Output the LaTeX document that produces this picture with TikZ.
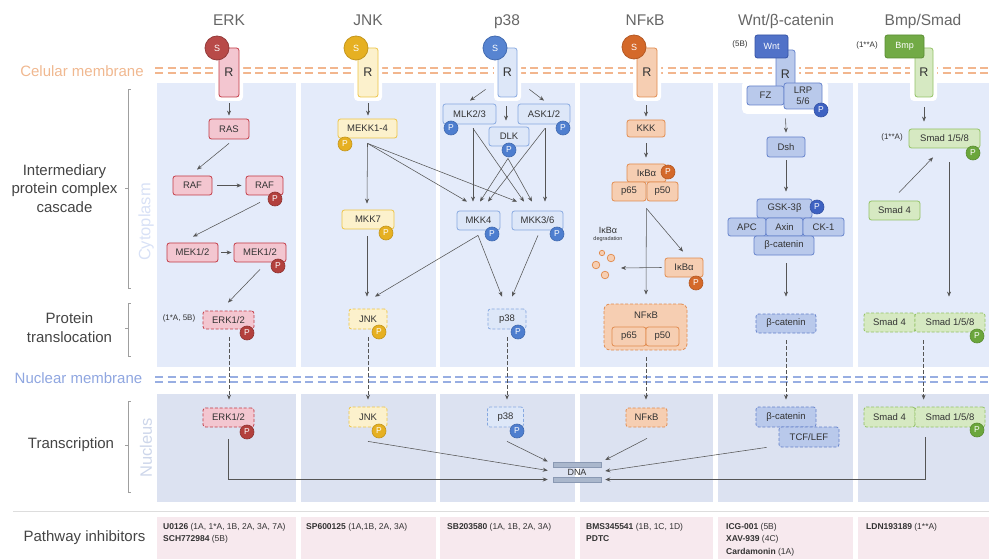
\documentclass[tikz,border=0pt]{standalone}
\usepackage{fontspec}
\setmainfont{Liberation Sans}
\usetikzlibrary{arrows.meta,calc}
\definecolor{erkF}{HTML}{F3C6D0}\definecolor{erkD}{HTML}{C23A45}\definecolor{erkP}{HTML}{B3403D}\definecolor{erkS}{HTML}{B84A48}
\definecolor{jnkF}{HTML}{FCF1CC}\definecolor{jnkD}{HTML}{EDC446}\definecolor{jnkP}{HTML}{E6B022}
\definecolor{p38F}{HTML}{DDE7F8}\definecolor{p38D}{HTML}{86A8E0}\definecolor{p38P}{HTML}{4E7ECF}
\definecolor{nfF}{HTML}{F6CEB2}\definecolor{nfD}{HTML}{E18B4E}\definecolor{nfP}{HTML}{D4692A}
\definecolor{wntF}{HTML}{B9C9EB}\definecolor{wntD}{HTML}{6482CB}\definecolor{wntP}{HTML}{3E62C2}
\definecolor{bmpF}{HTML}{D6E9C2}\definecolor{bmpD}{HTML}{93C266}\definecolor{bmpP}{HTML}{6BA63C}
\definecolor{cyto}{HTML}{E4EBFA}\definecolor{nucl}{HTML}{DCE2F1}\definecolor{inhib}{HTML}{F7E9EE}
\definecolor{memO}{HTML}{F2B68E}\definecolor{memB}{HTML}{98AEE2}
\definecolor{memOt}{HTML}{F0B890}\definecolor{memBt}{HTML}{8FA6E0}
\definecolor{txt}{HTML}{333333}\definecolor{ttl}{HTML}{666666}\definecolor{lab}{HTML}{444444}
\definecolor{arrc}{HTML}{555555}\definecolor{ghost}{HTML}{D8E1F6}\definecolor{sepc}{HTML}{DDDDDD}
\definecolor{dnaF}{HTML}{AAB7CC}\definecolor{dnaD}{HTML}{8A99B3}
\begin{document}
\begin{tikzpicture}[x=1pt,y=-1pt,
  bx/.style={rectangle, rounded corners=2.5pt, line width=0.8pt, inner sep=0pt, font=\fontsize{9.5}{11}\selectfont, text=txt, align=center},
  wh/.style 2 args={minimum width=#1pt, minimum height=#2pt},
  dsb/.style={dash pattern=on 3pt off 1.8pt},
  erkb/.style={bx, fill=erkF, draw=erkD},
  jnkb/.style={bx, fill=jnkF, draw=jnkD},
  p38b/.style={bx, fill=p38F, draw=p38D},
  nfb/.style={bx, fill=nfF, draw=nfD},
  wntb/.style={bx, fill=wntF, draw=wntD},
  bmpb/.style={bx, fill=bmpF, draw=bmpD},
  rlab/.style={font=\fontsize{12.5}{12.5}\selectfont},
  pc/.style={circle, inner sep=0pt, minimum size=14pt, font=\fontsize{8.5}{8.5}\selectfont, text=white, line width=0.6pt},
  perk/.style={pc, fill=erkP, draw=erkP!80!black},
  pjnk/.style={pc, fill=jnkP, draw=jnkP!85!black},
  pp38/.style={pc, fill=p38P, draw=p38P!85!black},
  pnf/.style={pc, fill=nfP, draw=nfP!85!black},
  pwnt/.style={pc, fill=wntP, draw=wntP!85!black},
  pbmp/.style={pc, fill=bmpP, draw=bmpP!85!black},
  sc/.style={circle, inner sep=0pt, minimum size=24pt, font=\fontsize{9}{9}\selectfont, text=white, line width=0.8pt},
  arr/.style={draw=arrc, line width=0.55pt, -{Stealth[length=5pt,width=4pt]}},
  darr/.style={arr, line width=0.7pt, dash pattern=on 3.5pt off 2.5pt},
  brk/.style={draw=gray!75, line width=0.7pt},
  lbl/.style={font=\fontsize{15}{18.5}\selectfont, text=lab, align=center},
  ttlst/.style={font=\fontsize{15.5}{15.5}\selectfont, text=ttl, anchor=base},
  sml/.style={font=\fontsize{8}{8}\selectfont, text=txt},
  inh/.style={anchor=north west, inner sep=0pt, align=left, font=\fontsize{8.5}{12.5}\selectfont, text=txt},
  mem/.style={line width=2pt, dash pattern=on 8pt off 4.5pt}]
\useasboundingbox (0,0) rectangle (989,559);
% panels
\foreach \a/\b in {157/296,301/436,440/575,580/713,718/853,858/989} {
  \fill[cyto] (\a,83) rectangle (\b,367);
  \fill[nucl] (\a,394) rectangle (\b,502);
  \fill[inhib] (\a,517) rectangle (\b,559);
}
\draw[sepc, line width=0.8pt] (13,511) -- (989,511);
% membranes
\foreach \y in {68.5,73.5} \draw[memO, mem] (155,\y) -- (989,\y);
\foreach \y in {376.5,381.5} \draw[memB, mem] (155,\y) -- (989,\y);
% left labels
\node[lbl, text=memOt] (lcm) at (82,71) {Celular membrane};
\node[lbl, text=memBt] (lnm) at (78.5,378) {Nuclear membrane};
\node[lbl] (lipc) at (64.5,188.5) {Intermediary\\protein complex\\cascade};
\node[lbl] (lpt) at (69.5,327.5) {Protein\\translocation};
\node[lbl] (ltr) at (71,445) {Transcription};
\node[lbl] (lpi) at (84.5,538) {Pathway inhibitors};
\draw[brk] (130.5,89) -- (128,89) -- (128,288) -- (130.5,288); \draw[brk] (128,188) -- (125,188);
\draw[brk] (130.5,303) -- (128,303) -- (128,356) -- (130.5,356); \draw[brk] (128,328) -- (125,328);
\draw[brk] (130.5,401) -- (128,401) -- (128,492) -- (130.5,492); \draw[brk] (128,445) -- (125,445);
\node[rotate=90, font=\fontsize{16.5}{16.5}\selectfont, text=ghost] (lcy) at (146,222) {Cytoplasm};
\node[rotate=90, font=\fontsize{16.5}{16.5}\selectfont, text=ghost!95!black] (lnu) at (146,448) {Nucleus};
% titles
\node[ttlst] (tERK) at (229,26) {ERK};
\node[ttlst] (tJNK) at (368,26) {JNK};
\node[ttlst] (tP38) at (507,26) {p38};
\node[ttlst] (tNF) at (645,26) {NFκB};
\node[ttlst] (tWNT) at (786,26) {Wnt/β-catenin};
\node[ttlst] (tBMP) at (923,26) {Bmp/Smad};
% halos
\fill[white, rounded corners=4pt] (215,58) rectangle (243,101);
\fill[white, rounded corners=4pt] (354,58) rectangle (382,101);
\fill[white, rounded corners=4pt] (494,58) rectangle (521,101);
\fill[white, rounded corners=4pt] (633,58) rectangle (661,101);
\fill[white, rounded corners=4pt] (772,58) rectangle (799,90);
\fill[white, rounded corners=5pt] (742,80) rectangle (828,114);
\fill[white, rounded corners=4pt] (910,58) rectangle (937,101);
% DNA
\node[draw=dnaD, fill=dnaF, line width=0.5pt, minimum width=48pt, minimum height=5pt, inner sep=0pt] (dnaT) at (577,464.5) {};
\node[draw=dnaD, fill=dnaF, line width=0.5pt, minimum width=48pt, minimum height=5pt, inner sep=0pt] (dnaB) at (577,479.5) {};
\node[font=\fontsize{9}{9}\selectfont, text=txt, inner sep=0pt] (dnal) at (577,472) {DNA};
% ===== ERK =====
\node[erkb, wh={20}{49}, rlab] (erkR) at (229,72.5) {R};
\node[sc, fill=erkS, draw=erkS!80!black] (erkS) at (217,48) {S};
\node[erkb, wh={40}{20}] (ras) at (229,129) {RAS};
\node[erkb, wh={39}{19}] (raf1) at (192.5,185.5) {RAF};
\node[erkb, wh={37}{19}] (raf2) at (264.5,185.5) {RAF};
\node[perk] (raf2P) at (275,199) {P};
\node[erkb, wh={51}{19}] (mek1) at (192.5,252.5) {MEK1/2};
\node[erkb, wh={52}{19}] (mek2) at (260,252.5) {MEK1/2};
\node[perk] (mek2P) at (278,266) {P};
\node[erkb, dsb, wh={51}{18}] (erk1) at (228.5,320) {ERK1/2};
\node[perk] (erk1P) at (247,333) {P};
\node[sml] (erkref) at (179,318) {(1*A, 5B)};
\node[erkb, dsb, wh={51}{19}] (erk2) at (228.5,417.5) {ERK1/2};
\node[perk] (erk2P) at (247,432) {P};
\draw[arr] ($(erkR.south)+(0,6)$) -- ($(ras.north)+(0,-3)$);
\draw[arr] ($(ras.south)+(0,4)$) -- ($(raf1.north)+(4.5,-6)$);
\draw[arr] ($(raf1.east)+(5,0)$) -- ($(raf2.west)+(-4,0)$);
\draw[arr] ($(raf2.south)+(-4.5,7)$) -- ($(mek1.north)+(0.5,-6)$);
\draw[arr] ($(mek1.east)+(3,0)$) -- ($(mek2.west)+(-2,0)$);
\draw[arr] ($(mek2.south)+(0,7)$) -- ($(erk1.north)+(-0.5,-8)$);
\draw[darr] ($(erk1.south)+(0.5,8)$) -- ($(erk2.north)+(0.5,-8)$);
\draw[arr] ($(erk2.south)+(0,12)$) |- ($(dnaB.west)+(-5,0)$);
% ===== JNK =====
\node[jnkb, wh={20}{49}, rlab] (jnkR) at (368,72.5) {R};
\node[sc, fill=jnkP, draw=jnkP!85!black] (jnkS) at (356,48) {S};
\node[jnkb, wh={59}{19}] (mekk) at (367.5,128.5) {MEKK1-4};
\node[pjnk] (mekkP) at (345,144) {P};
\node[jnkb, wh={52}{19}] (mkk7) at (368,219.5) {MKK7};
\node[pjnk] (mkk7P) at (386,233) {P};
\node[jnkb, dsb, wh={38}{20}] (jnk1) at (368,319) {JNK};
\node[pjnk] (jnk1P) at (379,332) {P};
\node[jnkb, dsb, wh={38}{20}] (jnk2) at (368,417) {JNK};
\node[pjnk] (jnk2P) at (379,431) {P};
% ===== p38 =====
\node[p38b, wh={19}{49}, rlab] (p38R) at (507.5,72.5) {R};
\node[sc, fill=p38P!95!white, draw=p38P!85!black] (p38S) at (495,48) {S};
\node[p38b, wh={53}{20}] (mlk) at (469.5,114) {MLK2/3};
\node[pp38] (mlkP) at (451,128) {P};
\node[p38b, wh={52}{20}] (ask) at (544,114) {ASK1/2};
\node[pp38] (askP) at (563,128) {P};
\node[p38b, wh={40}{19}] (dlk) at (509,136.5) {DLK};
\node[pp38] (dlkP) at (509,150) {P};
\node[p38b, wh={43}{19}] (mkk4) at (478.5,220.5) {MKK4};
\node[pp38] (mkk4P) at (492,234) {P};
\node[p38b, wh={51}{19}] (mkk36) at (537.5,220.5) {MKK3/6};
\node[pp38] (mkk36P) at (557,234) {P};
\node[p38b, dsb, wh={38}{20}] (p381) at (507,319) {p38};
\node[pp38] (p381P) at (518,332) {P};
\node[p38b, dsb, wh={36}{20}] (p382) at (505.5,417) {p38};
\node[pp38] (p382P) at (517,431) {P};
% JNK arrows
\draw[arr] ($(jnkR.south)+(0,6)$) -- ($(mekk.north)+(0.5,-3)$);
\draw[arr] ($(mekk.south)+(0,5)$) -- ($(mkk7.north)+(-1,-6)$);
\draw[arr] ($(mkk7.south)+(-1,7)$) -- ($(jnk1.north)+(-1,-12)$);
\draw[arr] ($(mekk.south)+(0,5)$) -- ($(mkk4.north)+(-11.5,-9)$);
\draw[arr] ($(mekk.south)+(0,5)$) -- ($(mkk36.north)+(-20.5,-9)$);
\draw[arr] ($(mkk4.south)+(-0.5,5)$) -- ($(jnk1.north)+(7,-12)$);
\draw[darr] ($(jnk1.south)+(0,8)$) -- ($(jnk2.north)+(0,-7)$);
\draw[arr] ($(jnk2.south)+(0,14)$) -- ($(dnaT.west)+(-5,6)$);
% p38 arrows
\draw[arr] ($(p38R.south west)+(-12,-8)$) -- ($(mlk.north)+(0.5,-3)$);
\draw[arr] ($(p38R.south east)+(12,-8)$) -- ($(ask.north)+(0,-3)$);
\draw[arr] ($(p38R.south)+(-1.5,9)$) -- ($(dlk.north)+(-3,-6)$);
\draw[arr] ($(mlk.south)+(3.5,4)$) -- ($(mkk4.north)+(-5.5,-9)$);
\draw[arr] ($(mlk.south)+(3.5,4)$) -- ($(mkk36.north)+(-13.5,-9)$);
\draw[arr] ($(dlk.south)+(-1,12)$) -- ($(mkk4.north)+(1.5,-9)$);
\draw[arr] ($(dlk.south)+(-1,12)$) -- ($(mkk36.north)+(-5.5,-9)$);
\draw[arr] ($(ask.south)+(1,4)$) -- ($(mkk4.north)+(9.5,-9)$);
\draw[arr] ($(ask.south)+(1,4)$) -- ($(mkk36.north)+(7.5,-9)$);
\draw[arr] ($(mkk4.south)+(-0.5,5)$) -- ($(p381.north)+(-5,-12)$);
\draw[arr] ($(mkk36.south)+(0.5,5)$) -- ($(p381.north)+(5,-12)$);
\draw[darr] ($(p381.south)+(0,8)$) -- ($(p382.north)+(1.5,-7)$);
\draw[arr] ($(p382.south)+(1.5,14)$) -- ($(dnaT.west)+(-5,-3)$);
% ===== NFkB =====
\node[nfb, wh={20}{49}, rlab] (nfR) at (647,72.5) {R};
\node[sc, fill=nfP, draw=nfP!85!black] (nfS) at (634,47) {S};
\node[nfb, wh={38}{17}] (kkk) at (646,128.5) {KKK};
\node[nfb, wh={39}{18}] (ikb) at (646.5,173) {IκBα};
\node[pnf] (ikbP) at (668,172) {P};
\node[nfb, wh={34}{19}] (p65a) at (629,191.5) {p65};
\node[nfb, wh={31}{19}] (p50a) at (662.5,191.5) {p50};
\node[nfb, wh={38}{19}] (ikb2) at (684,267.5) {IκBα};
\node[pnf] (ikb2P) at (696,283) {P};
\coordinate (degr) at (621,268);
\foreach \cx/\cy/\r in {602/253/2.7,611/258/3.8,596/265/3.8,605/275/3.8}
  \draw[fill=nfF, draw=nfD, line width=0.7pt] (\cx,\cy) circle[radius=\r pt];
\node[font=\fontsize{9}{9}\selectfont, text=txt] (degl) at (608,230) {IκBα};
\node[font=\fontsize{5.5}{5.5}\selectfont, text=txt] (degl2) at (608,239.5) {degradation};
\node[nfb, dsb, wh={83}{46}, rounded corners=6pt] (nfc) at (645.5,327) {};
\node[font=\fontsize{9.5}{9.5}\selectfont, text=txt] (nfcl) at (646,315) {NFκB};
\node[nfb, wh={34}{19}] (p65b) at (629,336.5) {p65};
\node[nfb, wh={33}{19}] (p50b) at (662.5,336.5) {p50};
\node[nfb, dsb, wh={41}{19}] (nfk2) at (646.5,417.5) {NFκB};
\draw[arr] ($(nfR.south)+(-1,8)$) -- ($(kkk.north)+(0,-3)$);
\draw[arr] ($(kkk.south)+(0,6)$) -- ($(ikb.north)+(-0.5,-6)$);
\draw[arr] ($(p65a.south east)+(0,7)$) -- ($(nfc.north)+(0.5,-9)$);
\draw[arr] ($(p65a.south east)+(0,7)$) -- ($(ikb2.north)+(-1,-6)$);
\draw[arr] ($(ikb2.west)+(-3,0)$) -- (degr);
\draw[darr] ($(nfc.south)+(0.5,7)$) -- ($(nfk2.north)+(-0.5,-8)$);
\draw[arr] ($(nfk2.south)+(0.5,11)$) -- ($(dnaT.east)+(4,-4.5)$);
% ===== Wnt =====
\node[wntb, wh={19}{48}, rlab, text depth=0pt, text height=9pt, yshift=-1pt] (wntR) at (785.5,73) {R};
\node[bx, fill=wntP!90!white, draw=wntP!85!black, text=white, wh={33}{23}, font=\fontsize{9}{9}\selectfont] (wntL) at (771.5,46.5) {Wnt};
\node[sml] (wntref) at (740,44) {(5B)};
\node[wntb, wh={37}{19}] (fz) at (765.5,95.5) {FZ};
\node[wntb, wh={38}{26}, font=\fontsize{9.5}{11}\selectfont] (lrp) at (803,96) {LRP\\5/6};
\node[pwnt] (lrpP) at (821,110) {P};
\node[wntb, wh={38}{20}] (dsh) at (786,147) {Dsh};
\node[wntb, wh={55}{19}] (gsk) at (784.5,208.5) {GSK-3β};
\node[pwnt] (gskP) at (817,207) {P};
\node[wntb, wh={38}{18}] (apc) at (747,227) {APC};
\node[wntb, wh={37}{18}] (axin) at (784.5,227) {Axin};
\node[wntb, wh={41}{18}] (ck1) at (823.5,227) {CK-1};
\node[wntb, wh={60}{19}] (bcat) at (784,245.5) {β-catenin};
\node[wntb, dsb, wh={60}{19}] (bcat2) at (786,323.5) {β-catenin};
\node[wntb, dsb, wh={60}{20}] (bcat3) at (786,417) {β-catenin};
\node[wntb, dsb, wh={60}{20}] (tcf) at (809,437) {TCF/LEF};
\draw[arr] ($(lrp.south west)+(2,9)$) -- ($(dsh.north)+(0,-4)$);
\draw[arr] ($(dsh.south)+(0,3)$) -- ($(gsk.north)+(1.5,-7)$);
\draw[arr] ($(bcat.south)+(2,8)$) -- ($(bcat2.north)+(0,-17)$);
\draw[darr] ($(bcat2.south)+(0,7)$) -- ($(bcat3.north)+(0,-7)$);
\draw[arr] ($(tcf.south west)+(-12,0)$) -- ($(dnaT.east)+(4,6.5)$);
% ===== Bmp =====
\node[bmpb, wh={18}{49}, rlab] (bmpR) at (924,72.5) {R};
\node[bx, fill=bmpP!95!white, draw=bmpP!85!black, text=white, wh={39}{23}, font=\fontsize{9}{9}\selectfont] (bmpL) at (904.5,46.5) {Bmp};
\node[sml] (bmpref) at (867,45) {(1**A)};
\node[bmpb, wh={71}{19}] (s158) at (944.5,138.5) {Smad 1/5/8};
\node[pbmp] (s158P) at (973,153) {P};
\node[sml] (s158ref) at (892,137) {(1**A)};
\node[bmpb, wh={51}{19}] (s4) at (894.5,210.5) {Smad 4};
\node[bmpb, dsb, wh={51}{19}] (s4b) at (889.5,322.5) {Smad 4};
\node[bmpb, dsb, wh={70}{19}] (s158b) at (950,322.5) {Smad 1/5/8};
\node[pbmp] (s158bP) at (977,336) {P};
\node[bmpb, dsb, wh={51}{20}] (s4c) at (889.5,417) {Smad 4};
\node[bmpb, dsb, wh={70}{20}] (s158c) at (950,417) {Smad 1/5/8};
\node[pbmp] (s158cP) at (977,430) {P};
\draw[arr] ($(bmpR.south)+(0,10)$) -- ($(s158.north)+(-20.5,-7)$);
\draw[arr] ($(s4.north)+(4.5,-8)$) -- ($(s158.south)+(-11.5,9)$);
\draw[arr] ($(s158.south)+(4.5,14)$) -- ($(s158b.north)+(-1,-16)$);
\draw[darr] ($(s158b.south west)+(9,8)$) -- ($(s158c.north west)+(9,-7)$);
\draw[arr] ($(s158c.south west)+(11,10)$) |- ($(dnaB.east)+(4,0)$);
% ===== inhibitors =====
\node[inh] (i1) at (163,523) {\textbf{U0126} (1A, 1*A, 1B, 2A, 3A, 7A)\\\textbf{SCH772984} (5B)};
\node[inh] (i2) at (306,523) {\textbf{SP600125} (1A,1B, 2A, 3A)};
\node[inh] (i3) at (447,523) {\textbf{SB203580} (1A, 1B, 2A, 3A)};
\node[inh] (i4) at (586,523) {\textbf{BMS345541} (1B, 1C, 1D)\\\textbf{PDTC}};
\node[inh] (i5) at (726,523) {\textbf{ICG-001} (5B)\\\textbf{XAV-939} (4C)\\\textbf{Cardamonin} (1A)};
\node[inh] (i6) at (866,523) {\textbf{LDN193189} (1**A)};
\end{tikzpicture}
\end{document}
